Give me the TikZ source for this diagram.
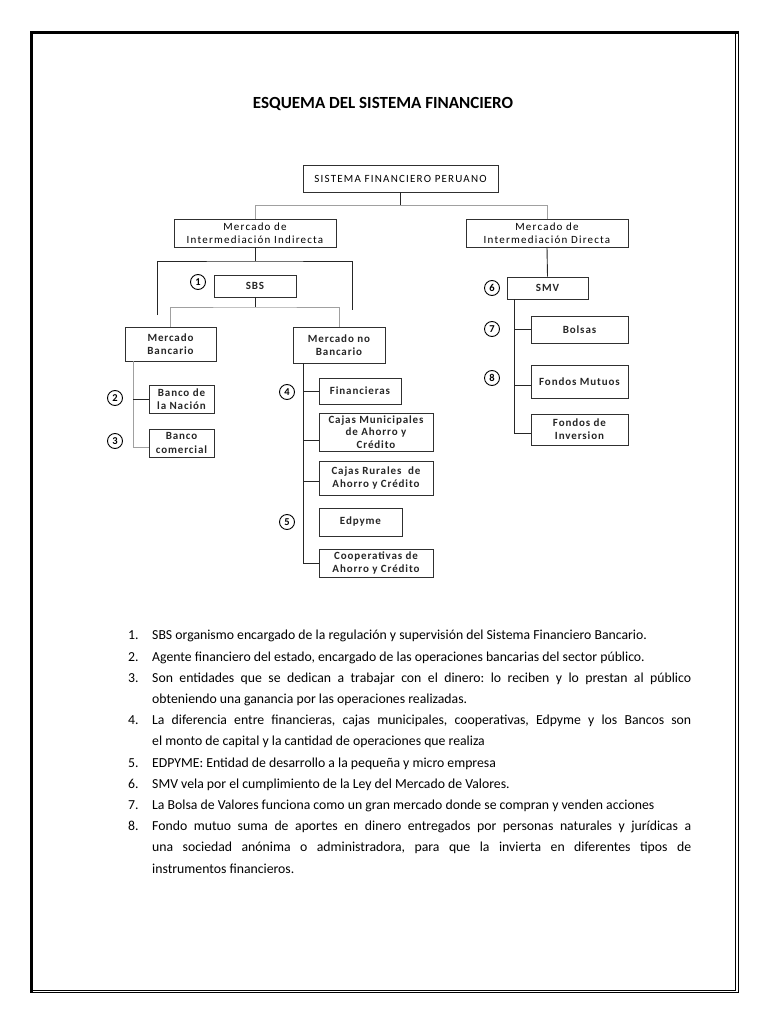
\documentclass[tikz,border=0pt]{standalone}
\usepackage{fontspec}
\setmainfont{Carlito}
\newfontfamily\bxfont{Carlito}[LetterSpace=11]
\newfontfamily\bxbfont{Carlito Bold}[LetterSpace=8]
\definecolor{lg}{HTML}{A0A0A0}
\definecolor{bd}{HTML}{303030}
\newcommand\itm[1]{\par\hangindent=24pt\hangafter=1\noindent\makebox[24pt][l]{#1}}
\tikzset{
  bx/.style={draw=bd, line width=0.9pt, inner sep=0pt, align=center,
    font=\bxfont\fontsize{11}{13.3}\selectfont, text=black},
  bxb/.style={bx, font=\bxbfont\fontsize{11}{13.3}\selectfont, text=black!85},
  num/.style={circle, draw=black, line width=0.9pt, inner sep=0pt,
    minimum size=15pt, font=\bfseries\fontsize{10.5}{10.5}\selectfont},
  kline/.style={draw=black!85, line width=0.9pt},
  gline/.style={draw=lg, line width=0.9pt},
}
\begin{document}
\begin{tikzpicture}[x=1pt,y=-1pt]
\useasboundingbox (0,0) rectangle (768,1024);
% page frame
\draw[line width=3pt] (31.5,992) -- (31.5,32.5) -- (738.7,32.5);
\draw[line width=0.8pt] (735.3,34) -- (735.3,990) -- (33,990);
\draw[line width=0.8pt] (738.7,31) -- (738.7,992.7) -- (30,992.7);
% title
\node[font=\bfseries\fontsize{17}{20}\selectfont] (title) at (383,104) {ESQUEMA DEL SISTEMA FINANCIERO};
% boxes
\node[bx, minimum width=195pt, minimum height=27pt] (sfp) at (400.5,178.5) {SISTEMA FINANCIERO PERUANO};
\node[bx, minimum width=162pt, minimum height=28pt] (ind) at (255,233) {Mercado de\\Intermediación Indirecta};
\node[bx, minimum width=162pt, minimum height=28pt] (dir) at (547,233) {Mercado de\\Intermediación Directa};
\node[bxb, minimum width=82pt, minimum height=22pt] (sbs) at (255,286) {SBS};
\node[bxb, minimum width=91pt, minimum height=34pt] (ban) at (170.5,344) {Mercado\\Bancario};
\node[bxb, minimum width=92pt, minimum height=36pt] (nob) at (339,345) {Mercado no\\Bancario};
\node[bxb, minimum width=65pt, minimum height=28pt] (bna) at (181.5,399) {Banco de\\la Nación};
\node[bxb, minimum width=65pt, minimum height=28pt] (bco) at (181.5,443) {Banco\\comercial};
\node[bxb, minimum width=82pt, minimum height=26pt] (fin) at (360,391) {Financieras};
\node[bxb, minimum width=114pt, minimum height=38pt, font=\bxbfont\fontsize{11}{12.4}\selectfont] (cmu) at (376,432) {Cajas Municipales\\de Ahorro y\\Crédito};
\node[bxb, minimum width=114pt, minimum height=34pt] (cru) at (376,478) {Cajas Rurales\ \ de\\Ahorro y Crédito};
\node[bxb, minimum width=83pt, minimum height=28pt] (edp) at (360.5,522) {Edpyme};
\node[bxb, minimum width=114pt, minimum height=28pt] (coo) at (376,563) {Cooperativas de\\Ahorro y Crédito};
\node[bxb, minimum width=81pt, minimum height=22pt] (smv) at (547.5,288) {SMV};
\node[bxb, minimum width=97pt, minimum height=27pt] (bol) at (579.5,329.5) {Bolsas};
\node[bxb, minimum width=97pt, minimum height=33pt] (fmu) at (579.5,381.5) {Fondos Mutuos};
\node[bxb, minimum width=97pt, minimum height=31pt] (fdi) at (579.5,429.5) {Fondos de\\Inversion};
% numbered circles
\node[num] (c1) at (198,282) {1};
\node[num] (c2) at (115,398) {2};
\node[num] (c3) at (115,441) {3};
\node[num] (c4) at (287,392) {4};
\node[num] (c5) at (287,522) {5};
\node[num] (c6) at (492,288) {6};
\node[num] (c7) at (492,329) {7};
\node[num] (c8) at (492,378) {8};
% connectors
\coordinate (j1) at (400.5,205);
\draw[kline] (sfp.south) -- (j1);
\draw[gline] (ind.north) |- (j1);
\draw[gline] (dir.north) |- (j1);
\coordinate (j2) at (255,261);
\coordinate (bl) at (157,315);
\coordinate (br) at (352,310);
\draw[kline] (ind.south) -- (j2);
\draw[kline] (bl) |- (j2) -| (br);
\coordinate (j3) at (255,307);
\draw[kline] (sbs.south) -- (j3);
\draw[gline] (ban.north) |- (j3) -| (nob.north);
\coordinate (b0) at (133,361);
\draw[gline] (b0) |- ([yshift=-4pt]bco.west);
\draw[kline] (b0 |- bna.west) -- (bna.west);
\coordinate (n0) at (303,363);
\draw[kline] (n0) |- (coo.west);
\draw[kline] (n0 |- fin.west) -- (fin.west);
\draw[kline] (n0 |- cmu.west) ++(0,8) -- ([yshift=-8pt]cmu.west);
\draw[kline] (n0 |- cru.west) ++(0,3) -- ([yshift=-3pt]cru.west);
\draw[kline] (dir.south) -- (smv.north);
\coordinate (s0) at (514,299);
\draw[kline] (s0) |- ([yshift=-3.5pt]fdi.west);
\draw[kline] (s0 |- bol.west) -- (bol.west);
\draw[kline] (s0 |- fmu.west) ++(0,3.5) -- ([yshift=-3.5pt]fmu.west);
% notes
\node[anchor=north west, inner sep=0pt, text width=563pt, align=justify,
  font=\fontsize{13.75}{21.2}\selectfont] (notes) at (128,618.5) {\frenchspacing%
\itm{1.}SBS organismo encargado de la regulación y supervisión del Sistema Financiero Bancario.
\itm{2.}Agente financiero del estado, encargado de las operaciones bancarias del sector público.
\itm{3.}Son entidades que se dedican a trabajar con el dinero: lo reciben y lo prestan al público\linebreak obteniendo una ganancia por las operaciones realizadas.
\itm{4.}La diferencia entre financieras, cajas municipales, cooperativas, Edpyme y los Bancos son\linebreak el monto de capital y la cantidad de operaciones que realiza
\itm{5.}EDPYME: Entidad de desarrollo a la pequeña y micro empresa
\itm{6.}SMV vela por el cumplimiento de la Ley del Mercado de Valores.
\itm{7.}La Bolsa de Valores funciona como un gran mercado donde se compran y venden acciones
\itm{8.}Fondo mutuo suma de aportes en dinero entregados por personas naturales y jurídicas a\linebreak una sociedad anónima o administradora, para que la invierta en diferentes tipos de\linebreak instrumentos financieros.\par};
\end{tikzpicture}
\end{document}
